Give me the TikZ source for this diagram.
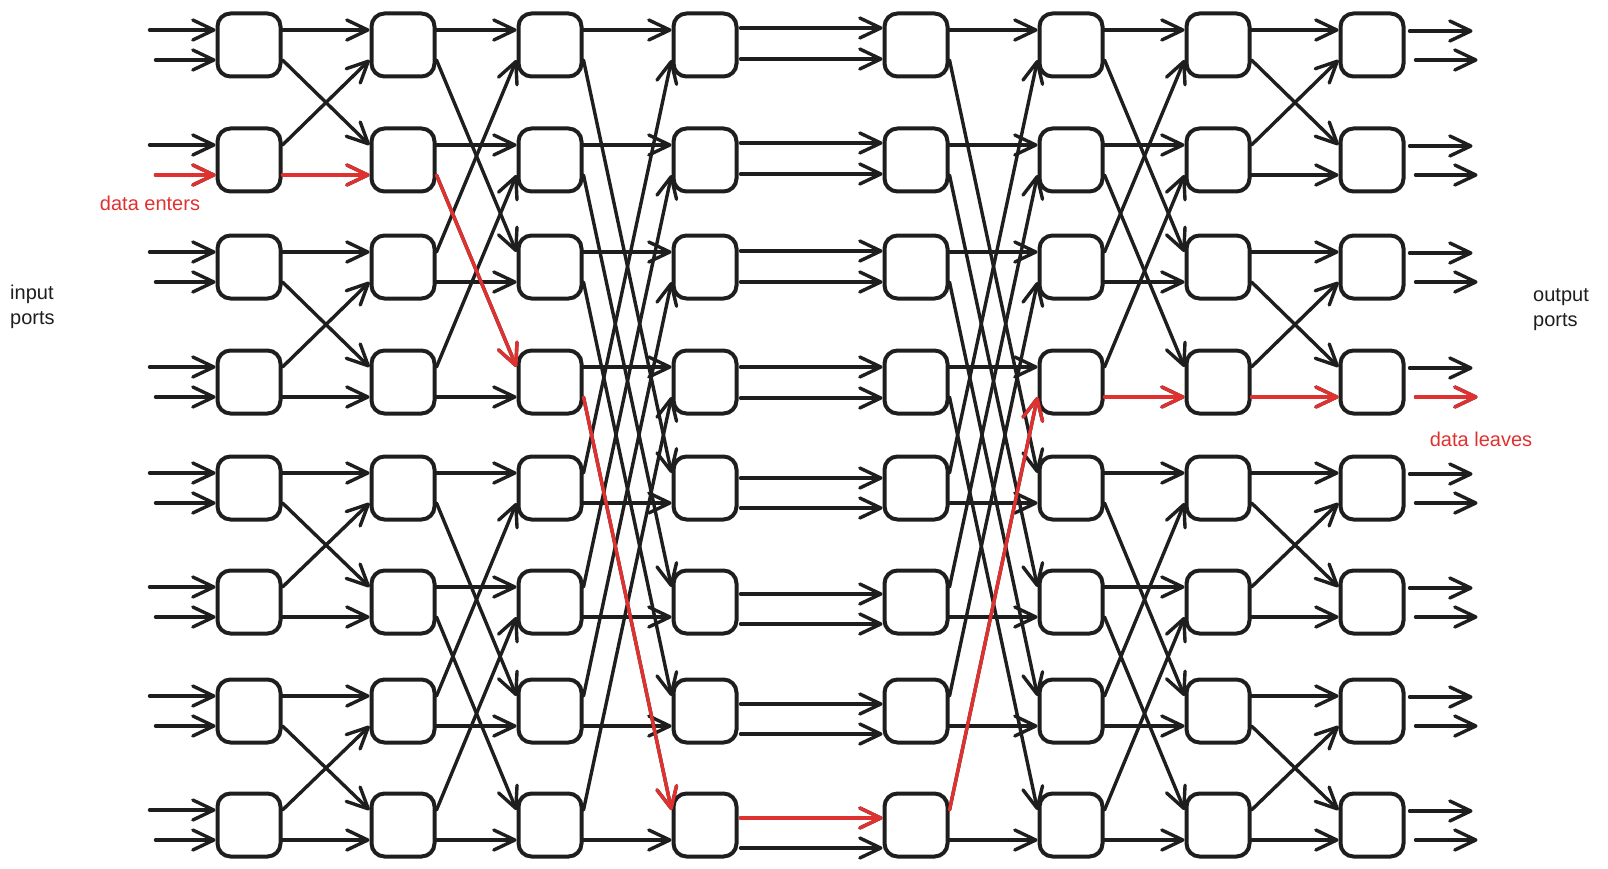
\documentclass[tikz,border=0pt]{standalone}
\usepackage{fontspec}
\setmainfont{Liberation Sans}
\usetikzlibrary{arrows.meta,calc}
\definecolor{ink}{HTML}{1E1E1E}
\definecolor{redink}{HTML}{E03131}
\begin{document}
\begin{tikzpicture}[x=1pt,y=-1pt,
  box/.style={draw=ink, line width=4pt, rounded corners=13pt, minimum width=63pt, minimum height=63pt, inner sep=0pt},
  wire/.style={draw=ink, line width=3.4pt, line cap=round, -{Straight Barb[length=21pt,width=20pt,round]}},
  redwire/.style={wire, draw=redink},
  lbl/.style={font=\fontsize{20}{25}\selectfont, inner sep=0pt}]
\useasboundingbox (0,0) rectangle (1608,869);
% switch boxes
\foreach \c/\x in {1/249,2/403,3/550,4/705,5/916,6/1071,7/1218,8/1372}
  \foreach \r/\y in {1/45,2/160,3/267,4/382,5/488,6/602,7/711,8/825}
    \node[box] (b\c-\r) at (\x,\y) {};
% input and output ports
\foreach \r in {1,...,8} {
  \coordinate (inT-\r) at ($(b1-\r.west)+(-66,-15)$);
  \coordinate (inB-\r) at ($(b1-\r.west)+(-60,15)$);
  \coordinate (outT-\r) at ($(b8-\r.east)+(67,-14)$);
  \coordinate (outB-\r) at ($(b8-\r.east)+(72,15)$);
  \draw[wire] (inT-\r) -- ($(b1-\r.west)+(0,-15)$);
  \draw[wire] (inB-\r) -- ($(b1-\r.west)+(0,15)$);
  \draw[wire] ($(b8-\r.east)+(4,-14)$) -- (outT-\r);
  \draw[wire] ($(b8-\r.east)+(10,15)$) -- (outB-\r);
}
% stages 1 and 7
\foreach \s/\t in {1/2,7/8}
  \foreach \a/\b/\e/\p in {1/1/2/-15,2/1/2/15,3/3/4/-15,4/3/4/15,5/5/6/-15,6/5/6/15,7/7/8/-15,8/7/8/15} {
    \draw[wire] ($(b\s-\a.east)+(0,-15)$) -- ($(b\t-\b.west)+(0,\p)$);
    \draw[wire] ($(b\s-\a.east)+(0,15)$) -- ($(b\t-\e.west)+(0,\p)$);
  }
% stages 2 and 6
\foreach \s/\t in {2/3,6/7}
  \foreach \a/\b/\e/\p in {1/1/3/-15,2/2/4/-15,3/1/3/15,4/2/4/15,5/5/7/-15,6/6/8/-15,7/5/7/15,8/6/8/15} {
    \draw[wire] ($(b\s-\a.east)+(0,-15)$) -- ($(b\t-\b.west)+(0,\p)$);
    \draw[wire] ($(b\s-\a.east)+(0,15)$) -- ($(b\t-\e.west)+(0,\p)$);
  }
% stages 3 and 5
\foreach \s/\t in {3/4,5/6}
  \foreach \a/\b/\e/\p in {1/1/5/-15,2/2/6/-15,3/3/7/-15,4/4/8/-15,5/1/5/15,6/2/6/15,7/3/7/15,8/4/8/15} {
    \draw[wire] ($(b\s-\a.east)+(0,-15)$) -- ($(b\t-\b.west)+(0,\p)$);
    \draw[wire] ($(b\s-\a.east)+(0,15)$) -- ($(b\t-\e.west)+(0,\p)$);
  }
% stage 4 (straight)
\foreach \r/\o/\q in {1/-17/14,2/-17/14,3/-16/15,4/-15/16,5/-10/20,6/-8/22,7/-7/23,8/-7/23} {
  \draw[wire] ($(b4-\r.east)+(2,\o)$) -- ($(b5-\r.west)+(0,\o)$);
  \draw[wire] ($(b4-\r.east)+(2,\q)$) -- ($(b5-\r.west)+(0,\q)$);
}
% highlighted data path
\draw[redwire] (inB-2) -- ($(b1-2.west)+(0,15)$);
\draw[redwire] ($(b1-2.east)+(0,15)$) -- ($(b2-2.west)+(0,15)$);
\draw[redwire] ($(b2-2.east)+(0,15)$) -- ($(b3-4.west)+(0,-15)$);
\draw[redwire] ($(b3-4.east)+(0,15)$) -- ($(b4-8.west)+(0,-15)$);
\draw[redwire] ($(b4-8.east)+(2,-7)$) -- ($(b5-8.west)+(0,-7)$);
\draw[redwire] ($(b5-8.east)+(0,-15)$) -- ($(b6-4.west)+(0,15)$);
\draw[redwire] ($(b6-4.east)+(0,15)$) -- ($(b7-4.west)+(0,15)$);
\draw[redwire] ($(b7-4.east)+(0,15)$) -- ($(b8-4.west)+(0,15)$);
\draw[redwire] ($(b8-4.east)+(10,15)$) -- (outB-4);
% labels
\node[lbl, text=redink, anchor=base] (enters) at (150,211) {data enters};
\node[lbl, text=redink, anchor=base] (leaves) at (1481,446) {data leaves};
\node[lbl, text=ink, anchor=north west, align=left] (inports) at (10,285) {input\\ports};
\node[lbl, text=ink, anchor=north west, align=left] (outports) at (1533,288) {output\\ports};
\end{tikzpicture}
\end{document}
